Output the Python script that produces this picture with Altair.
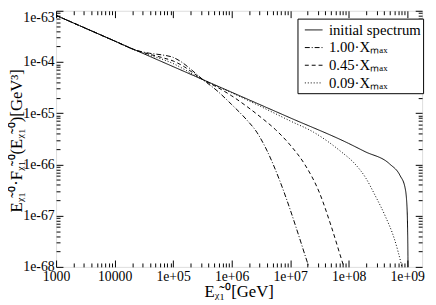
import altair as alt
import pandas as pd

series_names = ["initial spectrum", "1.00·Xₘₐₓ", "0.45·Xₘₐₓ", "0.09·Xₘₐₓ"]
dash_patterns = [[1, 0], [5, 2, 1, 2], [4, 3], [1, 2]]

# log10 of energy [GeV] and log10 of E*F [GeV^3]
initial_log_e = [3.0, 4.0, 5.0, 6.0, 7.0, 8.0, 8.28, 8.7, 8.88, 8.963, 8.997, 9.008, 9.013, 9.015]
initial_log_f = [-63.09, -63.59, -64.09, -64.59, -65.09, -65.59, -65.75, -65.99, -66.22, -66.45, -66.83, -67.32, -67.8, -68.1]

x100_log_e = [3.0, 4.0, 4.35, 4.6, 4.8, 5.0, 5.15, 5.3, 5.51, 5.75, 6.0, 6.25, 6.43, 6.6, 6.82, 7.0, 7.15, 7.32, 7.35]
x100_log_f = [-63.09, -63.59, -63.765, -63.83, -63.86, -63.91, -64.005, -64.14, -64.345, -64.56, -64.83, -65.12, -65.37, -65.72, -66.31, -66.88, -67.4, -68.0, -68.1]

x045_log_e = [3.0, 4.0, 4.35, 4.6, 4.8, 5.0, 5.2, 5.35, 5.51, 5.75, 6.0, 6.25, 6.5, 6.75, 7.0, 7.25, 7.5, 7.7, 7.92, 7.95]
x045_log_f = [-63.09, -63.59, -63.765, -63.85, -63.91, -63.98, -64.1, -64.22, -64.345, -64.49, -64.66, -64.86, -65.08, -65.32, -65.62, -66.0, -66.55, -67.2, -68.0, -68.1]

x009_log_e = [3.0, 4.0, 4.35, 4.6, 4.8, 5.0, 5.2, 5.35, 5.51, 6.0, 6.5, 7.0, 7.4, 7.87, 8.1, 8.29, 8.45, 8.63, 8.78, 8.91, 8.93]
x009_log_f = [-63.09, -63.59, -63.765, -63.87, -63.94, -64.03, -64.15, -64.25, -64.345, -64.6, -64.87, -65.15, -65.37, -65.75, -65.98, -66.26, -66.6, -67.02, -67.45, -68.0, -68.1]

x_major = [1e3, 1e4, 1e5, 1e6, 1e7, 1e8, 1e9]
y_major = [1e-68, 1e-67, 1e-66, 1e-65, 1e-64, 1e-63]
x_minor = [k * 10.0 ** n for n in range(3, 9) for k in range(2, 10)]
y_minor = [k * 10.0 ** n for n in range(-68, -63) for k in range(2, 10)]

rows = []
for name, le, lf in zip(series_names,
                        [initial_log_e, x100_log_e, x045_log_e, x009_log_e],
                        [initial_log_f, x100_log_f, x045_log_f, x009_log_f]):
    for a, b in zip(le, lf):
        rows.append({"series": name, "E": 10.0 ** a, "F": 10.0 ** b})
df = pd.DataFrame(rows)

x_scale = alt.Scale(type="log", domain=[1e3, 1.8e9], nice=False)
y_scale = alt.Scale(type="log", domain=[1e-68, 1e-63], nice=False)

FONT = "Liberation Serif, Times New Roman, serif"

lines = alt.Chart(df).mark_line(clip=True, strokeWidth=1, interpolate="monotone", color="black").encode(
    x=alt.X("E:Q", scale=x_scale, axis=alt.Axis(
        orient="bottom", values=x_major, ticks=False, tickSize=0, domain=False, grid=False,
        labelExpr="datum.value < 1e5 ? format(datum.value, 'd') : '1e+0' + round(log(datum.value)/LN10)",
        labelFont=FONT, labelFontSize=14, labelColor="black", labelPadding=3,
        labelFlush=False, labelOverlap=False,
        title="Eᵪ̃₁⁰[GeV]", titleFont=FONT, titleFontSize=17, titleFontWeight="normal",
        titleColor="black", titleX=186, titleY=30, titleBaseline="alphabetic", titleAlign="center")),
    y=alt.Y("F:Q", scale=y_scale, axis=alt.Axis(
        orient="left", values=y_major, ticks=False, tickSize=0, domain=False, grid=False,
        labelExpr="'1e' + round(log(datum.value)/LN10)",
        labelFont=FONT, labelFontSize=14, labelColor="black", labelPadding=2,
        labelBaseline={"condition": {"test": "datum.value > 5e-64", "value": "top"}, "value": "middle"},
        labelFlush=False, labelOverlap=False,
        title="Eᵪ̃₁⁰·Fᵪ̃₁⁰(Eᵪ̃₁⁰)[GeV³]", titleFont=FONT, titleFontSize=17,
        titleFontWeight="normal", titleColor="black", titleX=-35, titleY=132,
        titleAngle=270, titleAlign="center", titleBaseline="alphabetic")),
    strokeDash=alt.StrokeDash("series:N", scale=alt.Scale(domain=series_names, range=dash_patterns),
                              legend=alt.Legend(
                                  title=None, orient="none", legendX=246, legendY=8,
                                  strokeColor="black", fillColor="white", padding=2,
                                  labelFont=FONT, labelFontSize=15, labelColor="black",
                                  symbolType="stroke", symbolSize=324, symbolStrokeWidth=1,
                                  symbolStrokeColor="black", symbolOffset=5, rowPadding=0,
                                  labelOffset=6, labelLimit=200)),
)


def tick_layer(size, xvals, yvals, x_orient, y_orient):
    return alt.Chart(df).mark_point(opacity=0).encode(
        x=alt.X("E:Q", scale=x_scale, axis=alt.Axis(
            orient=x_orient, values=xvals, tickSize=size, offset=-size, labels=False,
            domain=False, grid=False, title=None, tickColor="black", tickWidth=1)),
        y=alt.Y("F:Q", scale=y_scale, axis=alt.Axis(
            orient=y_orient, values=yvals, tickSize=size, offset=-size, labels=False,
            domain=False, grid=False, title=None, tickColor="black", tickWidth=1)),
    )


chart = alt.layer(
    lines,
    tick_layer(7, x_major, y_major, "bottom", "left"),
    tick_layer(4, x_minor, y_minor, "bottom", "left"),
    tick_layer(7, x_major, y_major, "top", "right"),
    tick_layer(4, x_minor, y_minor, "top", "right"),
).resolve_axis(x="independent", y="independent").properties(
    width=373, height=261,
    autosize=alt.AutoSizeParams(type="none"),
    padding={"left": 49, "top": 0, "right": 6, "bottom": 36},
).configure_view(stroke="black", strokeWidth=1).configure(font=FONT, background="white")

chart.save("out.html", embed_options={"renderer": "svg", "actions": False})
